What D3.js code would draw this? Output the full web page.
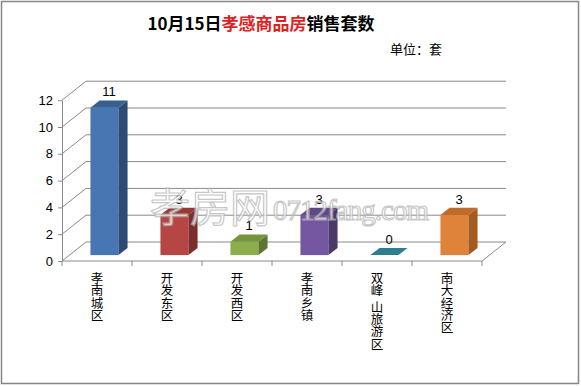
<!DOCTYPE html>
<html>
<head>
<meta charset="utf-8">
<script src="https://cdn.jsdelivr.net/npm/d3@7"></script>
<style>
body{margin:0;background:#fff;}
svg{display:block;}
</style>
</head>
<body>
<div id="container"></div>
<script>
var categories=['孝南城区','开发东区','开发西区','孝南乡镇','双峰 山旅游区','南大经济区'];
var values=[11,3,1,3,0,3];
var yTicks=[0,2,4,6,8,10,12];
var frontColors=['#4876B3','#B64643','#8DAD4C','#7457A0','#2E7E90','#E0833A'];
var sideColors=['#2D4B74','#7C2E2C','#5D7630','#4C396A','#1F5663','#A35B22'];
var topColors=['#38608F','#963A37','#76933E','#5F4886','#2E7E90','#C06B2A'];

var width=581, height=386;
var DX=24, DY=-19;
var f1=0.31, f2=0.69;

var svg=d3.select('#container').append('svg')
    .attr('width',width).attr('height',height);

svg.append('rect')
    .attr('x',1.5).attr('y',1.5).attr('width',width-4).attr('height',height-4)
    .attr('fill','#fff').attr('stroke','#878787').attr('stroke-width',1.5);

var x=d3.scaleBand().domain(categories).range([62,482]);
var y=d3.scaleLinear().domain([0,12]).range([261,100.2]);

var g=svg.append('g');

// back wall + side wall grid
yTicks.forEach(function(t){
    g.append('line')
    .attr('x1',62).attr('y1',y(t)).attr('x2',62+DX).attr('y2',y(t)+DY)
    .attr('stroke','#8a8a8a');
    g.append('line')
    .attr('x1',62+DX).attr('y1',y(t)+DY).attr('x2',482+DX).attr('y2',y(t)+DY)
    .attr('stroke','#8a8a8a');
});
// floor right edge
g.append('line')
    .attr('x1',482).attr('y1',y(0)).attr('x2',482+DX).attr('y2',y(0)+DY)
    .attr('stroke','#8a8a8a');

// y axis
var yAxis=d3.axisLeft(y).tickValues(yTicks).tickSize(4).tickSizeOuter(0).tickPadding(5);
var ya=g.append('g').attr('transform','translate(62,0)').call(yAxis);
ya.select('.domain').attr('stroke','#8a8a8a');
ya.selectAll('.tick line').attr('stroke','#8a8a8a');
ya.selectAll('text').attr('font-family','"Liberation Sans",Arial,sans-serif')
    .attr('font-size',13).attr('fill','#000');

// x axis line and boundary ticks
g.append('line').attr('x1',62).attr('y1',y(0)).attr('x2',482).attr('y2',y(0))
    .attr('stroke','#8a8a8a');
categories.concat([null]).forEach(function(c,i){
    var xx=62+i*x.step();
    g.append('line').attr('x1',xx).attr('y1',y(0)).attr('x2',xx).attr('y2',y(0)+5)
    .attr('stroke','#8a8a8a');
});

// watermark
var wm=svg.append('g').attr('opacity',0.75);
wm.append('text').text('孝房网')
    .attr('x',150).attr('y',222)
    .attr('font-family','"Noto Sans CJK SC",sans-serif').attr('font-size',40)
    .attr('fill','#fff').attr('stroke','#b5b5b5').attr('stroke-width',1.2);
wm.append('text').text('0712fang.com')
    .attr('x',273).attr('y',220)
    .attr('font-family','"Liberation Serif",serif').attr('font-size',29)
    .attr('textLength',156)
    .attr('fill','#fff').attr('stroke','#b5b5b5').attr('stroke-width',1.2);

// bars
var bw=x.bandwidth()*0.4;
var ddx=(f2-f1)*DX, ddy=(f2-f1)*DY;
categories.forEach(function(c,i){
    var v=values[i];
    var x0=x(c)+x.bandwidth()*0.3+f1*DX;
    var yb=y(0)+f1*DY, yt=y(v)+f1*DY;
    var bar=g.append('g');
    if(v>0){
        bar.append('rect').attr('x',x0).attr('y',yt).attr('width',bw).attr('height',yb-yt)
        .attr('fill',frontColors[i]);
        bar.append('polygon').attr('points',[[x0+bw,yt],[x0+bw+ddx,yt+ddy],[x0+bw+ddx,yb+ddy],[x0+bw,yb]].join(' '))
        .attr('fill',sideColors[i]);
    }
    bar.append('polygon').attr('points',[[x0,yt],[x0+ddx,yt+ddy],[x0+bw+ddx,yt+ddy],[x0+bw,yt]].join(' '))
        .attr('fill',topColors[i]);
    g.append('text').text(v)
        .attr('x',x(c)+x.bandwidth()/2+12).attr('y',y(v)+f2*DY-4)
        .attr('text-anchor','middle')
        .attr('font-family','"Liberation Sans",Arial,sans-serif').attr('font-size',13)
        .attr('fill','#000');
});

// category labels, stacked vertically
categories.forEach(function(c){
    var t=g.append('text')
        .attr('font-family','"Noto Sans CJK SC",sans-serif').attr('font-size',12.5)
        .attr('fill','#000').attr('text-anchor','middle');
    var yy=283;
    c.split('').forEach(function(ch){
        if(ch===' '){yy+=4;return;}
        t.append('tspan').attr('x',x(c)+x.bandwidth()/2).attr('y',yy).text(ch);
        yy+=12.3;
    });
});

// title
var title=svg.append('text')
    .attr('x',261).attr('y',30).attr('text-anchor','middle')
    .attr('font-family','"Noto Sans CJK SC",sans-serif').attr('font-size',17)
    .attr('font-weight','bold');
title.append('tspan').text('10月15日').attr('fill','#000');
title.append('tspan').text('孝感商品房').attr('fill','#E0201E');
title.append('tspan').text('销售套数').attr('fill','#000');

svg.append('text').text('单位：套')
    .attr('x',390).attr('y',54)
    .attr('font-family','"Noto Sans CJK SC",sans-serif').attr('font-size',13)
    .attr('fill','#000');
</script>
</body>
</html>
